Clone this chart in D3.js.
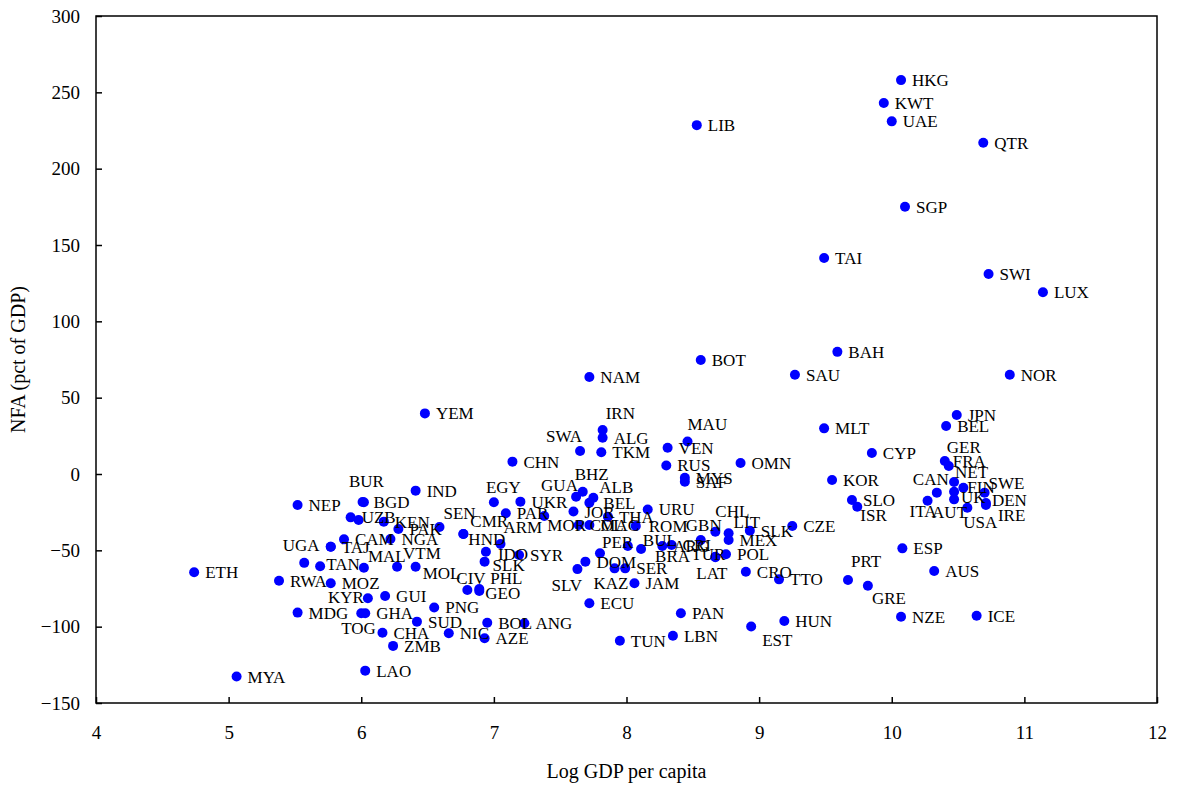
<!DOCTYPE html>
<html>
<head>
<meta charset="utf-8">
<script src="https://cdn.jsdelivr.net/npm/d3@7"></script>
<style>
  body { margin: 0; background: #fff; }
  text { font-family: "Liberation Serif", "Times New Roman", serif; fill: #000; }
</style>
</head>
<body>
<div id="my_dataviz"></div>
<script>
// country codes (label text), log GDP per capita, NFA in pct of GDP
var codes = ["HKG","KWT","UAE","QTR","LIB","SGP","TAI","SWI","LUX","BOT","BAH","NAM","SAU","NOR",
  "YEM","IRN","ALG","MAU","VEN","SWA","TKM","MLT","JPN","BEL","CHN","OMN","CYP","RUS","MYS","SAF",
  "KOR","URU","GER","FRA","NET","CAN","FIN","UK","AUT","ITA","USA","SWE","DEN","IRE","SLO","ISR",
  "ESP","AUS","PRT","GRE","NZE","ICE","CZE","BUR","BGD","IND","NEP","UZB","","KEN","PAK","SEN",
  "CAM","NGA","UGA","TAJ","MAL","TAN","","VTM","MOL","ETH","RWA","MOZ","KYR","GUI","MDG","TOG",
  "GHA","CHA","ZMB","SUD","LAO","MYA","PNG","EGY","UKR","PAR","GUA","BHZ","ALB","BEL","JOR","MOR",
  "COL","MAC","THA","HND","CMR","ARM","IDO","SLK","SYR","CIV","PHL","GEO","BOL","ANG","AZE","NIC",
  "ECU","TUN","LBN","PAN","EST","HUN","CRO","TTO","SLV","DOM","PER","KAZ","SER","JAM","ROM","BUL",
  "BRA","ARG","CRI","GBN","CHL","LIT","MEX","SLK","TUR","POL","LAT"];

var logGdp = [10.07,9.94,10.00,10.69,8.53,10.10,9.49,10.73,11.14,8.56,9.59,7.72,9.27,10.89,
  6.48,7.82,7.82,8.46,8.31,7.65,7.81,9.49,10.49,10.41,7.14,8.86,9.85,8.30,8.44,8.44,
  9.55,8.16,10.40,10.43,10.47,10.34,10.54,10.47,10.47,10.27,10.57,10.70,10.71,10.71,9.70,9.74,
  10.08,10.32,9.67,9.82,10.07,10.64,9.25,6.02,6.01,6.41,5.52,5.92,5.98,6.17,6.28,6.59,
  5.87,6.22,5.77,5.77,6.02,5.69,5.57,6.27,6.41,4.74,5.38,5.77,6.05,6.18,5.52,6.00,
  6.03,6.16,6.24,6.42,6.03,5.06,6.55,7.00,7.20,7.09,7.62,7.67,7.75,7.72,7.60,7.38,
  7.64,7.72,7.86,6.77,6.77,7.05,6.94,6.93,7.19,6.80,6.89,6.89,6.95,7.23,6.93,6.66,
  7.72,7.95,8.35,8.41,8.94,9.19,8.90,9.15,7.63,7.69,7.80,7.91,7.99,8.06,8.07,8.01,
  8.11,8.27,8.34,8.56,8.67,8.77,8.77,8.93,8.67,8.75,8.67];

var nfa = [258,243,231,217,228.5,175,141.5,131,119,74.7,80,63.5,65,65,
  39.7,28.8,23.8,21.3,17.2,15.1,14.2,29.9,38.6,31.4,8.1,7.2,13.8,5.6,-2.4,-5.0,
  -3.9,-23.2,8.5,5.2,-5.2,-12.2,-9.0,-11.6,-16.6,-17.5,-22.1,-12.2,-19.0,-20.3,-17.0,-21.4,
  -48.7,-63.5,-69.4,-73.2,-93.5,-92.8,-34.1,-18.5,-18.3,-10.9,-20.3,-28.4,-30.1,-31.2,-36.0,-34.7,
  -42.8,-42.6,-47.6,-47.6,-61.4,-60.4,-58.2,-60.7,-60.7,-64.3,-69.9,-71.6,-81.4,-79.9,-90.8,-91.2,
  -91.2,-104,-112.6,-96.7,-128.8,-132.7,-87.4,-18.5,-18.1,-25.7,-14.9,-11.6,-15.5,-18.8,-24.6,-27.5,
  -33.4,-33.4,-28.0,-39.3,-39.3,-45.8,-50.9,-57.4,-53,-76,-75.3,-76.6,-97.4,-97.8,-107.6,-104.3,
  -84.7,-109.2,-105.9,-91.2,-99.9,-96.3,-64,-69,-62.3,-57.4,-51.9,-61.8,-61.8,-71.6,-34.0,-47.2,
  -49.1,-47.2,-46.5,-43.2,-37.8,-38.8,-43.2,-37.1,-54.2,-52.6,-54.5];

var xTicks = [4, 5, 6, 7, 8, 9, 10, 11, 12];
var yTicks = [-150, -100, -50, 0, 50, 100, 150, 200, 250, 300];

// hand-moved labels: [start offset x, centre offset y] from the point
var labelNudge = {
  IRN: [3, -17], MAU: [0, -17], SWA: [-34, -15], BUR: [-15, -21], UGA: [-48, -2],
  CAN: [-24, -14], GER: [2, -14], NET: [1, -10], SWE: [4, -10], DEN: [6, -3], IRE: [12, 10],
  UK: [7, 5], AUT: [-22, 13], ITA: [-18, 10], USA: [-4, 14], FIN: [4, -1], FRA: [4, -5],
  ISR: [3, 8], PRT: [3, -19], GRE: [4, 12], EST: [11, 14], KYR: [-40, -1], TOG: [-20, 15],
  MAL: [4, -12], VTM: [6, -14], MOL: [7, 6], TAN: [6, -2], SEN: [4, -14], CMR: [7, -13],
  HND: [5, 5], EGY: [-8, -15], GUA: [-35, -12], BHZ: [-8, -18], ALB: [6, -11], BEL2: [14, 0],
  MOR: [3, 9], ARM: [3, -17], IDO: [12, 2], SLK: [8, 3], CIV: [-11, -12], PHL: [11, -11],
  GEO: [6, 2], SLV: [-26, 16], KAZ: [-21, 15], PER: [2, -11], BUL: [15, -6], BRA: [14, 7],
  ROM: [13, 0], GBN: [-15, -15], CHL: [0, -21], LIT: [5, -11], TUR: [-24, -3], LAT: [-19, 16]
};

// set the dimensions and margins of the graph
var margin = { top: 16, right: 20, bottom: 82, left: 96 },
  width = 1157 - margin.left,
  height = 703 - margin.top;

var svg = d3
  .select("#my_dataviz")
  .append("svg")
  .attr("width", 1177)
  .attr("height", 785)
  .append("g")
  .attr("transform", "translate(" + margin.left + "," + margin.top + ")");

var x = d3.scaleLinear().domain([4, 12]).range([0, width]);
var y = d3.scaleLinear().domain([-150, 300]).range([height, 0]);

// frame
svg.append("rect")
  .attr("width", width)
  .attr("height", height)
  .attr("fill", "none")
  .attr("stroke", "#000")
  .attr("stroke-width", 1.5);

var xAxis = svg.append("g")
  .attr("transform", "translate(0," + height + ")")
  .call(d3.axisBottom(x).tickValues(xTicks).tickSizeInner(-6).tickSizeOuter(0).tickPadding(23));

var yAxis = svg.append("g")
  .call(d3.axisLeft(y).tickValues(yTicks).tickSizeInner(-6).tickSizeOuter(0).tickPadding(16));

[xAxis, yAxis].forEach(function (g) {
  g.select(".domain").remove();
  g.selectAll("line").attr("stroke", "#000").attr("stroke-width", 1.5);
  g.selectAll("text")
    .style("font-family", "'Liberation Serif', 'Times New Roman', serif")
    .style("font-size", "19px")
    .attr("fill", "#000");
});

svg.append("text")
  .attr("x", width / 2)
  .attr("y", height + 75)
  .attr("text-anchor", "middle")
  .style("font-size", "20px")
  .text("Log GDP per capita");

svg.append("text")
  .attr("transform", "translate(" + (-71) + "," + (height / 2) + ") rotate(-90)")
  .attr("text-anchor", "middle")
  .style("font-size", "20px")
  .text("NFA (pct of GDP)");

var seen = {};
var data = codes.map(function (c, i) {
  seen[c] = (seen[c] || 0) + 1;
  var key = seen[c] > 1 ? c + seen[c] : c;
  return { code: c, key: key, gdp: logGdp[i], nfa: nfa[i] };
});

// points
svg.selectAll(".dot")
  .data(data)
  .enter()
  .append("circle")
  .attr("class", "dot")
  .attr("cx", function (d) { return x(d.gdp); })
  .attr("cy", function (d) { return y(d.nfa); })
  .attr("r", 5)
  .attr("fill", "#0000ff");

// labels
svg.selectAll(".lbl")
  .data(data)
  .enter()
  .append("text")
  .attr("class", "lbl")
  .attr("x", function (d) {
    var n = labelNudge[d.key];
    return x(d.gdp) + (n ? n[0] : 11);
  })
  .attr("y", function (d) {
    var n = labelNudge[d.key];
    return y(d.nfa) + (n ? n[1] : 0);
  })
  .attr("dy", "0.35em")
  .style("font-size", "17px")
  .text(function (d) { return d.code; });
</script>
</body>
</html>
